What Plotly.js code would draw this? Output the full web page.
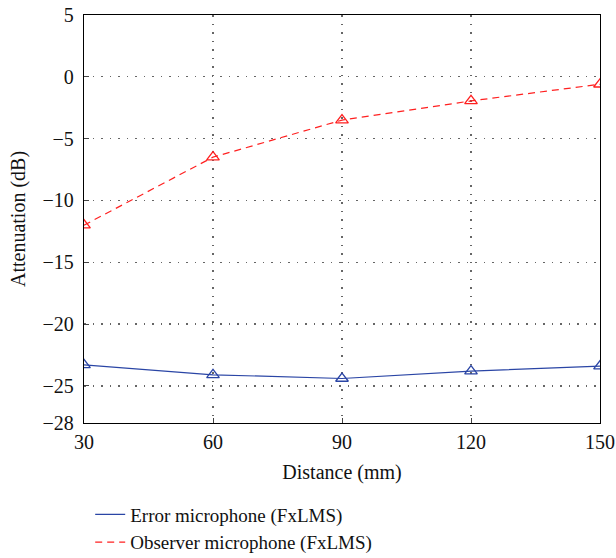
<!DOCTYPE html>
<html>
<head>
<meta charset="utf-8">
<script src="https://cdn.plot.ly/plotly-3.0.1.min.js"></script>
<style>html,body{margin:0;padding:0;background:#fff;}#chart{width:616px;height:558px;}</style>
</head>
<body>
<div id="chart"></div>
<script>
const distance = [30, 60, 90, 120, 150];
const errorMic = [-23.3, -24.1, -24.4, -23.8, -23.4];
const observerMic = [-12.0, -6.5, -3.5, -1.95, -0.6];
const yTickVals = [5, 0, -5, -10, -15, -20, -25, -28];
const yTickText = ['5', '0', '\u22125', '\u221210', '\u221215', '\u221220', '\u221225', '\u221228'];
const xTickVals = [30, 60, 90, 120, 150];

const blue = '#2a45a5';
const red = '#ff2020';
const font = 'Liberation Serif, Times New Roman, serif';

const traces = [
  {x: distance, y: errorMic, mode: 'lines+markers', showlegend: false,
   line: {color: blue, width: 1.2},
   marker: {symbol: 'triangle-up-open', size: 11, color: blue, line: {width: 1.3, color: blue}}},
  {x: distance, y: observerMic, mode: 'lines+markers', showlegend: false,
   line: {color: red, width: 1.2, dash: '7px,5px'},
   marker: {symbol: 'triangle-up-open', size: 11, color: red, line: {width: 1.3, color: red}}},
  {x: [null], y: [null], mode: 'lines', name: 'Error microphone (FxLMS)',
   line: {color: blue, width: 1.3}},
  {x: [null], y: [null], mode: 'lines', name: 'Observer microphone (FxLMS)',
   line: {color: red, width: 1.3, dash: '7px,5px'}}
];

const gridStyle = {showgrid: true, gridcolor: '#666', griddash: '1.5px,7px', gridwidth: 1.2};

const layout = {
  width: 616, height: 558,
  margin: {l: 84, r: 16, t: 15, b: 135},
  paper_bgcolor: '#fff', plot_bgcolor: '#fff',
  font: {family: font, size: 19, color: '#111'},
  xaxis: Object.assign({
    range: [30, 150], tickvals: xTickVals, ticks: 'inside', ticklen: 5,
    showline: true, mirror: true, linecolor: '#000', linewidth: 1.3,
    zeroline: false, tickfont: {size: 20}, ticklabelstandoff: 1,
    title: {text: 'Distance (mm)', font: {size: 20}, standoff: 12}
  }, gridStyle),
  yaxis: Object.assign({
    range: [-28, 5], tickvals: yTickVals, ticktext: yTickText, ticks: 'inside', ticklen: 5,
    showline: true, mirror: true, linecolor: '#000', linewidth: 1.3,
    zeroline: false, tickfont: {size: 20}, ticklabelstandoff: 5,
    title: {text: 'Attenuation (dB)', font: {size: 20}, standoff: 11}
  }, gridStyle),
  legend: {
    xref: 'paper', x: 0.012, xanchor: 'left',
    yref: 'container', y: 0.112, yanchor: 'top',
    font: {size: 19}, bgcolor: 'rgba(0,0,0,0)', itemwidth: 30, tracegroupgap: 0
  },
  showlegend: true
};

Plotly.newPlot('chart', traces, layout, {displayModeBar: false, staticPlot: true});
</script>
</body>
</html>
